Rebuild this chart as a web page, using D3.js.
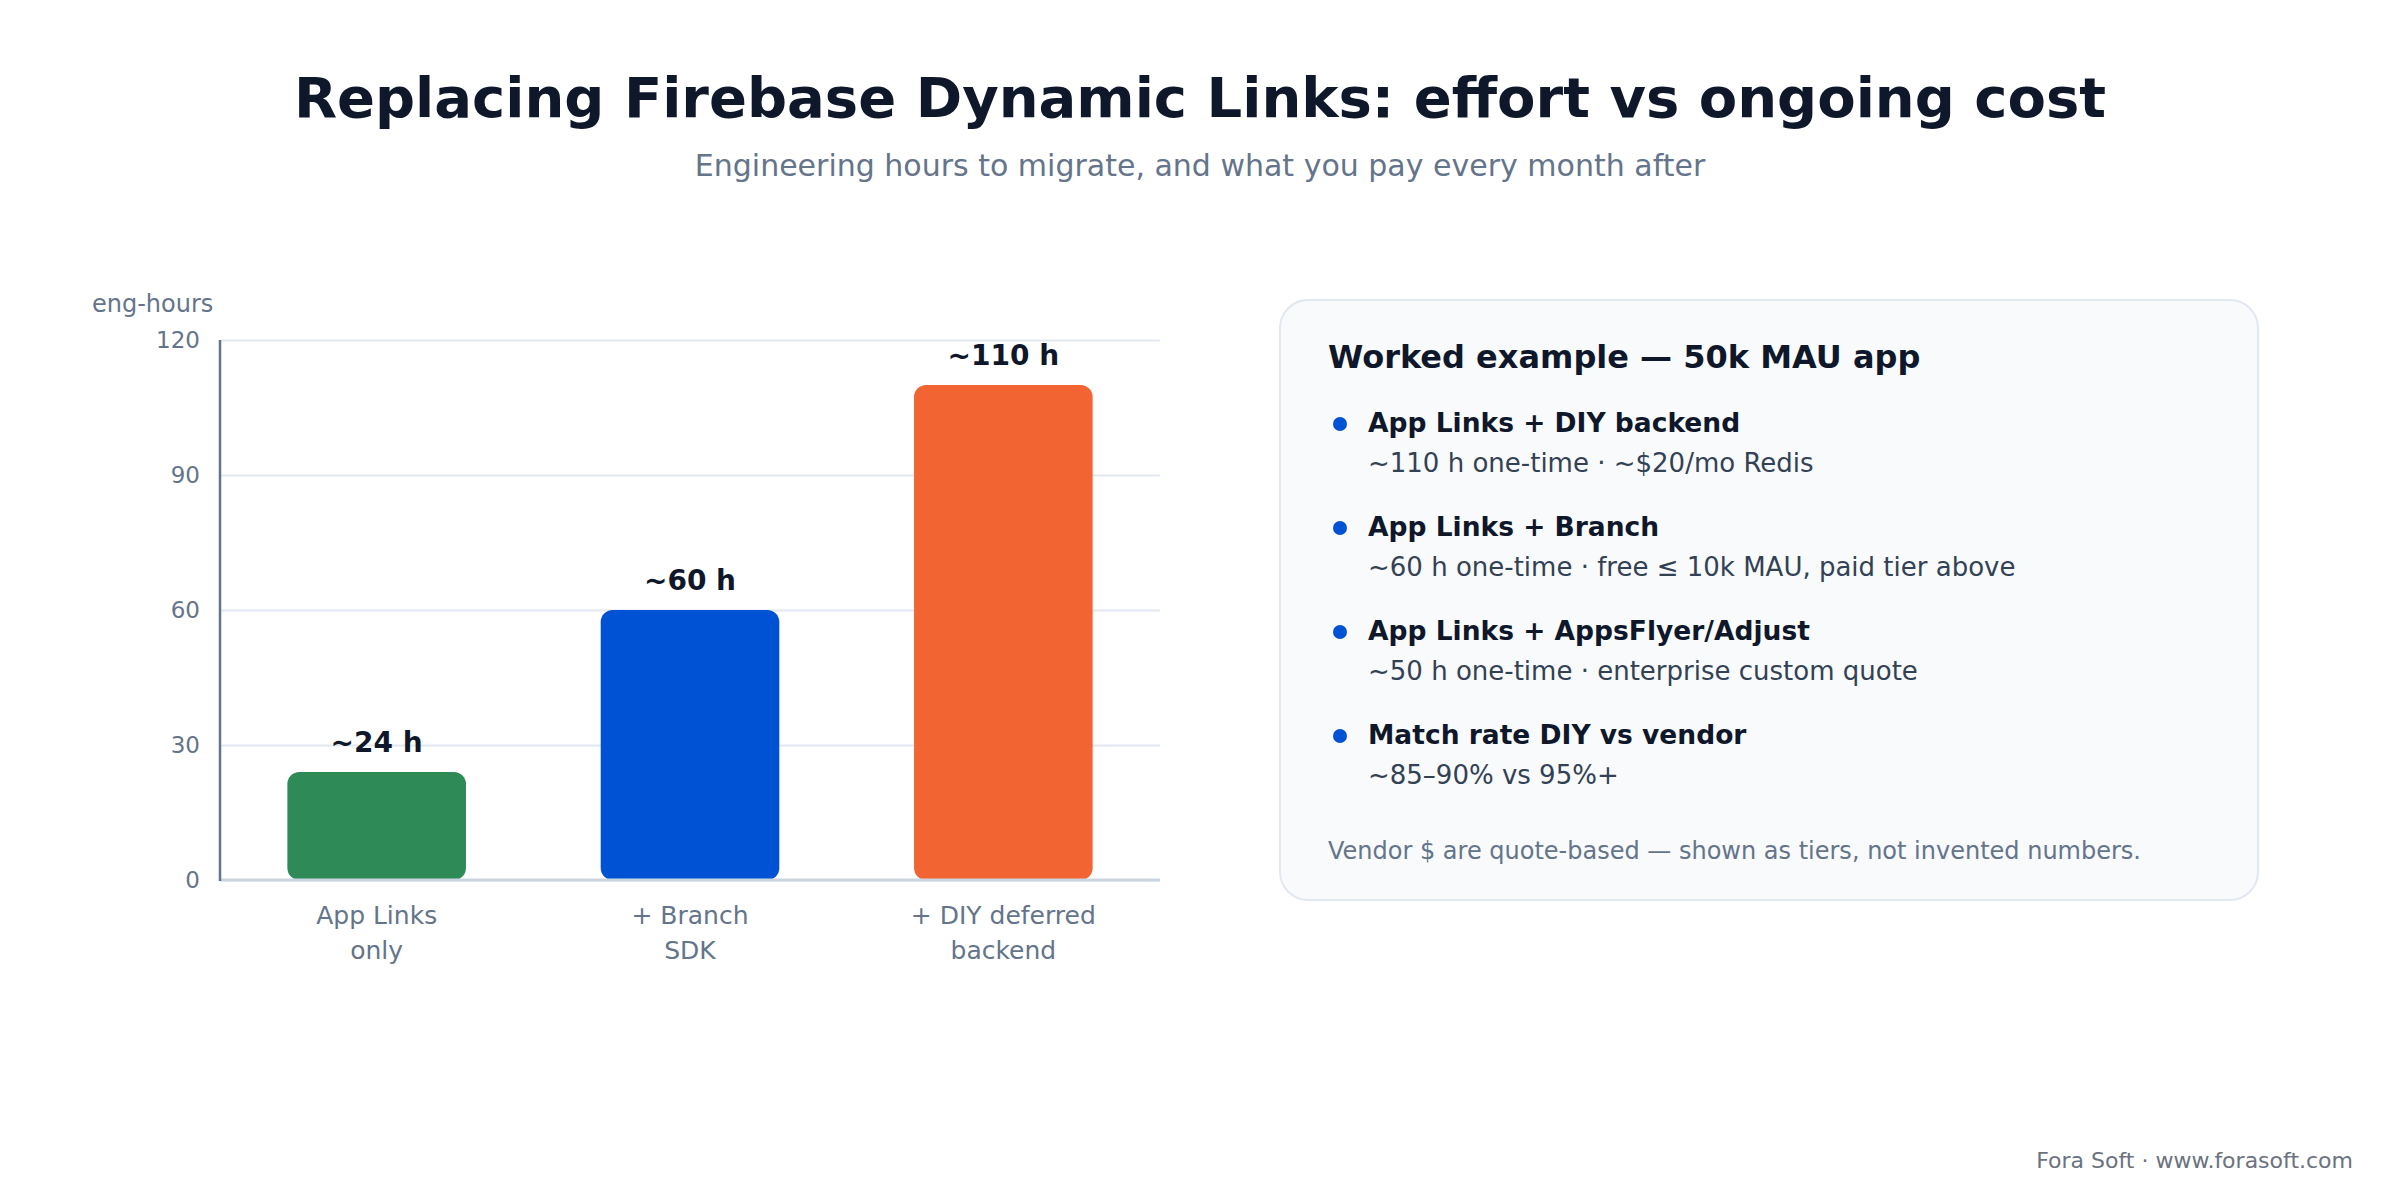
<!DOCTYPE html>
<html>
<head>
    <title>firebaseLinks</title>
    <script src="https://d3js.org/d3.v7.min.js"></script>
    <style>
        html, body { margin: 0; padding: 0; background: #ffffff; }
        svg { display: block; }
    </style>
</head>
<body>
    <svg width="2400" height="1200" viewBox="0 0 2400 1200" id="mainsvg" font-family="DejaVu Sans, sans-serif"></svg>
    <script>
        // chart values
        const categories = ['App Links only', '+ Branch SDK', '+ DIY deferred backend'];
        const categoryLines = [['App Links', 'only'], ['+ Branch', 'SDK'], ['+ DIY deferred', 'backend']];
        const hours = [24, 60, 110];
        const valueLabels = ['~24 h', '~60 h', '~110 h'];
        const barColors = ['#2e8b57', '#0052d4', '#f26532'];
        const yTicks = [0, 30, 60, 90, 120];

        const bulletTitles = ['App Links + DIY backend', 'App Links + Branch', 'App Links + AppsFlyer/Adjust', 'Match rate DIY vs vendor'];
        const bulletDetails = ['~110 h one-time · ~$20/mo Redis', '~60 h one-time · free ≤ 10k MAU, paid tier above',
            '~50 h one-time · enterprise custom quote', '~85–90% vs 95%+'];

        const svg = d3.select('#mainsvg');
        const margin = { top: 340, left: 220 };
        const innerWidth = 940;
        const innerHeight = 540;

        // title
        svg.append('text').text('Replacing Firebase Dynamic Links: effort vs ongoing cost')
            .attr('x', 1200).attr('y', 117).attr('text-anchor', 'middle')
            .attr('font-size', 56).attr('font-weight', 'bold').attr('fill', '#0f172a');
        svg.append('text').text('Engineering hours to migrate, and what you pay every month after')
            .attr('x', 1200).attr('y', 176).attr('text-anchor', 'middle')
            .attr('font-size', 30).attr('fill', '#64748b');

        const g = svg.append('g').attr('transform', `translate(${margin.left}, ${margin.top})`);

        const xScale = d3.scaleBand().domain(categories).range([0, innerWidth])
            .paddingInner(0.43).paddingOuter(0.215);
        const yScale = d3.scaleLinear().domain([0, 120]).range([innerHeight, 0]);

        // gridlines + tick labels
        const yAxis = d3.axisLeft(yScale).tickValues(yTicks).tickSize(-innerWidth).tickPadding(20);
        const yAxisGroup = g.append('g').call(yAxis);
        yAxisGroup.select('.domain').remove();
        yAxisGroup.selectAll('line').attr('stroke', '#e2e8f0').attr('stroke-width', 2);
        yAxisGroup.selectAll('text').attr('font-size', 23).attr('fill', '#64748b')
            .attr('font-family', 'DejaVu Sans, sans-serif');

        g.append('text').text('eng-hours').attr('x', -128).attr('y', -28)
            .attr('font-size', 24).attr('fill', '#64748b');

        // bars
        g.selectAll('.bar').data(categories).join('rect')
            .attr('class', 'bar')
            .attr('x', d => xScale(d))
            .attr('width', xScale.bandwidth())
            .attr('y', (d, i) => yScale(hours[i]))
            .attr('height', (d, i) => innerHeight - yScale(hours[i]))
            .attr('rx', 12)
            .attr('fill', (d, i) => barColors[i]);

        g.selectAll('.val').data(categories).join('text')
            .attr('class', 'val')
            .text((d, i) => valueLabels[i])
            .attr('x', d => xScale(d) + xScale.bandwidth() / 2)
            .attr('y', (d, i) => yScale(hours[i]) - 20)
            .attr('text-anchor', 'middle')
            .attr('font-size', 28).attr('font-weight', 'bold').attr('fill', '#0f172a');

        // axis lines
        g.append('line').attr('x1', 0).attr('x2', innerWidth).attr('y1', innerHeight).attr('y2', innerHeight)
            .attr('stroke', '#cbd5e1').attr('stroke-width', 3);
        g.append('line').attr('x1', 0).attr('x2', 0).attr('y1', 0).attr('y2', innerHeight + 1)
            .attr('stroke', '#64748b').attr('stroke-width', 2.5);

        // category labels
        const catText = g.selectAll('.cat').data(categories).join('text')
            .attr('class', 'cat')
            .attr('text-anchor', 'middle')
            .attr('font-size', 25).attr('fill', '#64748b');
        catText.each(function (d, i) {
            const cx = xScale(d) + xScale.bandwidth() / 2;
            categoryLines[i].forEach((line, j) => {
                d3.select(this).append('tspan').text(line)
                    .attr('x', cx).attr('y', innerHeight + 44 + j * 35);
            });
        });

        // side panel
        const panel = svg.append('g').attr('transform', 'translate(1280, 300)');
        panel.append('rect').attr('width', 978).attr('height', 600).attr('rx', 28)
            .attr('fill', '#f8fafc').attr('stroke', '#e2e8f0').attr('stroke-width', 2);
        panel.append('text').text('Worked example — 50k MAU app')
            .attr('x', 48).attr('y', 68).attr('font-size', 32).attr('font-weight', 'bold').attr('fill', '#0f172a');

        const items = panel.selectAll('.item').data(bulletTitles).join('g')
            .attr('class', 'item')
            .attr('transform', (d, i) => `translate(0, ${132 + i * 104})`);
        items.append('circle').attr('cx', 60).attr('cy', -8).attr('r', 7).attr('fill', '#0052d4');
        items.append('text').text(d => d).attr('x', 88).attr('y', 0)
            .attr('font-size', 26.5).attr('font-weight', 'bold').attr('fill', '#0f172a');
        items.append('text').text((d, i) => bulletDetails[i]).attr('x', 88).attr('y', 40)
            .attr('font-size', 26).attr('fill', '#334155');

        panel.append('text').text('Vendor $ are quote-based — shown as tiers, not invented numbers.')
            .attr('x', 48).attr('y', 559).attr('font-size', 24).attr('fill', '#64748b');

        // footer
        svg.append('text').text('Fora Soft · www.forasoft.com')
            .attr('x', 2353).attr('y', 1168).attr('text-anchor', 'end')
            .attr('font-size', 22).attr('fill', '#6b7280');
    </script>
</body>
</html>
